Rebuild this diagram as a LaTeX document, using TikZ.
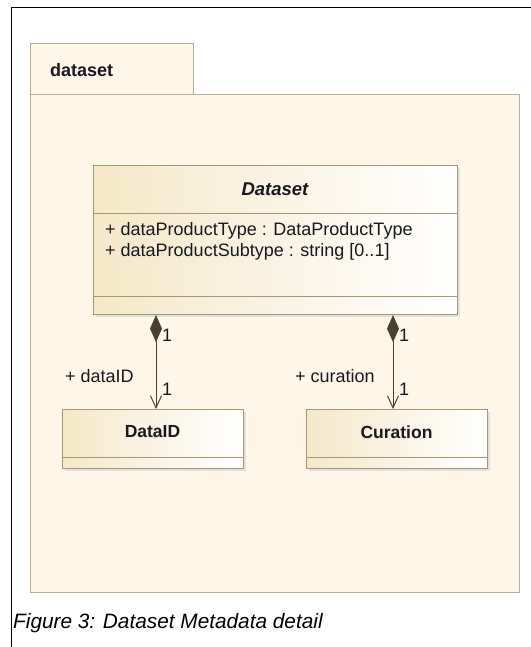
\documentclass[tikz,border=0pt]{standalone}
\usepackage{fontspec}
\setmainfont{Liberation Sans}
\usetikzlibrary{arrows.meta,calc}
\definecolor{pkgfill}{HTML}{FEF7E8}
\definecolor{pkgdraw}{HTML}{BAAF92}
\definecolor{clsleft}{HTML}{F5E8C8}
\definecolor{clsdraw}{HTML}{A8976E}
\definecolor{lnk}{HTML}{4A4030}
\definecolor{txt}{HTML}{18181F}
\tikzset{
  pkg/.style={draw=pkgdraw, fill=pkgfill, line width=1.3pt},
  cls/.style={draw=clsdraw, left color=clsleft, right color=white, line width=1.1pt, inner sep=0pt},
  shad/.style={fill=black!12, draw=none},
  divider/.style={draw=clsdraw, line width=0.9pt},
  ctext/.style={font=\fontsize{18}{20}\selectfont, text=txt, inner sep=0pt},
  comp/.style={draw=lnk, line width=1pt, {Diamond[length=27pt,width=12pt,fill=lnk]}-{Straight Barb[length=12pt,width=11pt]}},
  frame/.style={draw=black, line width=1.5pt},
}
\begin{document}
\begin{tikzpicture}[x=1pt,y=-1pt]
\useasboundingbox (0,0) rectangle (530,647);
\fill[white] (0,0) rectangle (530,647);
% outer frame
\coordinate (ftl) at (11.5,7.4);
\coordinate (fbl) at (11.5,648);
\coordinate (ftr) at (531,7.4);
\draw[frame] (fbl) -- (ftl) -- (ftr);
% package
\node[pkg, minimum width=163pt, minimum height=51pt, anchor=north west] (tab) at (30,43) {};
\node[pkg, minimum width=489pt, minimum height=498pt, anchor=north west] (pkgbody) at (30,94) {};
\node[ctext, font=\fontsize{18}{20}\selectfont\bfseries, anchor=west] (pkgname) at (50,70) {dataset};
% Dataset class
\fill[shad] (96,168) rectangle (460,317);
\node[cls, minimum width=364pt, minimum height=149pt, anchor=north west] (dataset) at (93,165) {};
\draw[divider] (93,213) -- (457,213);
\draw[divider] (93,296) -- (457,296);
\node[ctext, font=\fontsize{18.5}{20}\selectfont\bfseries\itshape] (dstitle) at (275,189) {Dataset};
\node[ctext, anchor=west] (a1) at (105,230.5) {+ dataProductType : DataProductType};
\node[ctext, anchor=west] (a2) at (105,252) {+ dataProductSubtype : string [0..1]};
% DataID class
\fill[shad] (65,412) rectangle (246,471);
\node[cls, minimum width=181pt, minimum height=59pt, anchor=north west] (dataid) at (62,409) {};
\draw[divider] (62,457) -- (243,457);
\node[ctext, font=\fontsize{17.5}{20}\selectfont\bfseries] (dataidt) at (152.5,432) {DataID};
% Curation class
\fill[shad] (309,412) rectangle (490,471);
\node[cls, minimum width=181pt, minimum height=59pt, anchor=north west] (curation) at (306,409) {};
\draw[divider] (306,457) -- (487,457);
\node[ctext, font=\fontsize{17.5}{20}\selectfont\bfseries] (curationt) at (396.5,432) {Curation};
% connectors
\coordinate (cx1) at (156,0);
\coordinate (cx2) at (393,0);
\draw[comp] (dataset.south -| cx1) -- (dataid.north -| cx1);
\draw[comp] (dataset.south -| cx2) -- (curation.north -| cx2);
% labels
\node[ctext, anchor=west] (m1) at (162,335) {1};
\node[ctext, anchor=west] (m2) at (162,389) {1};
\node[ctext, anchor=west] (r1) at (65,376) {+ dataID};
\node[ctext, anchor=west] (m3) at (399,335) {1};
\node[ctext, anchor=west] (m4) at (399,389) {1};
\node[ctext, anchor=west] (r2) at (295,376) {+ curation};
% caption
\node[font=\fontsize{20.8}{24}\selectfont\itshape, text=black, inner sep=0pt, anchor=base west] (cap) at (13,628.5) {Figure 3: Dataset Metadata detail};
\end{tikzpicture}
\end{document}
